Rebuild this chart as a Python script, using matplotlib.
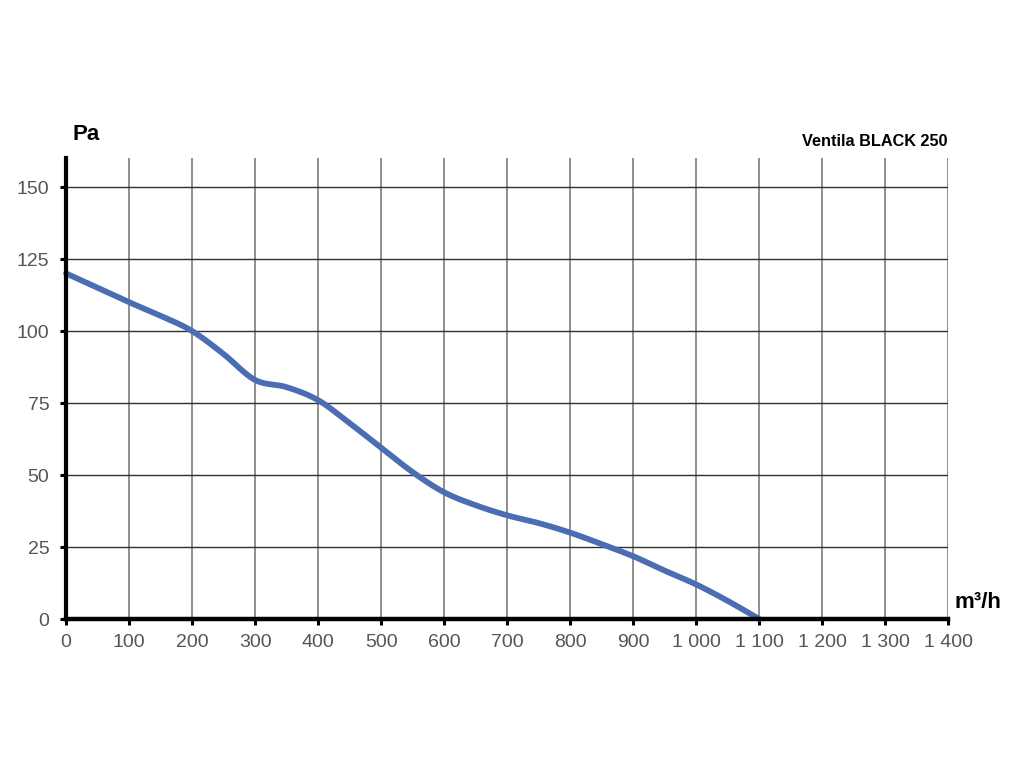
import matplotlib.pyplot as plt
import numpy as np

plt.rcParams['font.family'] = ['Liberation Sans', 'DejaVu Sans']

# airflow (m3/h) and static pressure (Pa)
flow = [0, 50, 100, 150, 200, 250, 300, 350, 400, 450, 500, 550,
        600, 650, 700, 750, 800, 850, 900, 950, 1000, 1050, 1100]
pressure = [120, 115, 110, 105.3, 100, 92, 83, 80.5, 76, 68, 59.5, 51,
            44, 39.5, 36, 33.3, 30, 26, 21.8, 16.8, 12, 6.3, 0]

xticks = np.arange(0, 1401, 100)
xlabels = ['0', '100', '200', '300', '400', '500', '600', '700', '800',
           '900', '1 000', '1 100', '1 200', '1 300', '1 400']
yticks = [0, 25, 50, 75, 100, 125, 150]


def smooth(xs, ys, n=20):
    # Catmull-Rom curve through the read points, for drawing only
    p = np.column_stack([xs, ys]).astype(float)
    p = np.vstack([2 * p[0] - p[1], p, 2 * p[-1] - p[-2]])
    out = []
    t = np.linspace(0, 1, n, endpoint=False)[:, None]
    for i in range(1, len(p) - 2):
        p0, p1, p2, p3 = p[i - 1], p[i], p[i + 1], p[i + 2]
        seg = 0.5 * ((2 * p1) + (-p0 + p2) * t
                     + (2 * p0 - 5 * p1 + 4 * p2 - p3) * t ** 2
                     + (-p0 + 3 * p1 - 3 * p2 + p3) * t ** 3)
        out.append(seg)
    out.append(p[-2][None, :])
    out = np.vstack(out)
    return out[:, 0], out[:, 1]


fig = plt.figure(figsize=(10.24, 7.68), dpi=100)
ax = fig.add_axes([0.0645, 0.194, 0.8615, 0.600])

ax.set_xlim(0, 1400)
ax.set_ylim(0, 160)

# grid: vertical lines gray, horizontal lines darker
for xv in xticks[1:]:
    ax.axvline(xv, color='#707070', lw=1.1, zorder=1)
for yv in yticks[1:]:
    ax.axhline(yv, color='#303030', lw=1.0, zorder=1)

sx, sy = smooth(flow, pressure)
ax.plot(sx, sy, color='#4a6db3', lw=4.2, solid_joinstyle='round',
        solid_capstyle='round', zorder=3, clip_on=False)

ax.set_xticks(xticks)
ax.set_xticklabels(xlabels)
ax.set_yticks(yticks)

ax.spines['right'].set_color('none')
ax.spines['top'].set_color('none')
ax.spines['left'].set_linewidth(3.0)
ax.spines['bottom'].set_linewidth(3.2)
ax.spines['left'].set_zorder(4)
ax.spines['bottom'].set_zorder(4)

ax.tick_params(axis='both', direction='out', length=4, width=2.2,
               colors='black', labelcolor='#555555', labelsize=14)
ax.tick_params(axis='y', pad=8)
ax.tick_params(axis='x', pad=7)

fig.text(73 / 1024, 1 - 135 / 768, 'Pa', fontsize=16, fontweight='bold',
         ha='left', va='center')
fig.text(955 / 1024, 1 - 603 / 768, 'm³/h', fontsize=16, fontweight='bold',
         ha='left', va='center')
fig.text(948 / 1024, 1 - 142 / 768, 'Ventila BLACK 250', fontsize=11.7,
         fontweight='bold', ha='right', va='center')

plt.savefig('out.png', dpi=100)
